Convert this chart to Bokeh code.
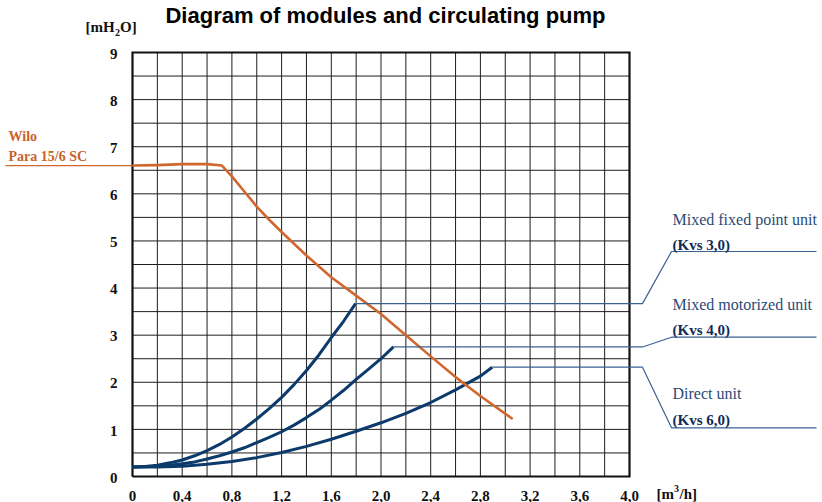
from bokeh.plotting import figure
from bokeh.models import Range1d
from bokeh.core.properties import value
from bokeh.embed import file_html
from bokeh.resources import INLINE

# ---------------- data ----------------
x_major = [0.0, 0.4, 0.8, 1.2, 1.6, 2.0, 2.4, 2.8, 3.2, 3.6, 4.0]
x_labels = ["0", "0,4", "0,8", "1,2", "1,6", "2,0", "2,4", "2,8", "3,2", "3,6", "4,0"]
x_grid = [0.0, 0.2, 0.4, 0.6, 0.8, 1.0, 1.2, 1.4, 1.6, 1.8, 2.0,
          2.2, 2.4, 2.6, 2.8, 3.0, 3.2, 3.4, 3.6, 3.8, 4.0]
y_major = [0, 1, 2, 3, 4, 5, 6, 7, 8, 9]
y_labels = ["0", "1", "2", "3", "4", "5", "6", "7", "8", "9"]
y_grid = [0, 0.5, 1, 1.5, 2, 2.5, 3, 3.5, 4, 4.5, 5, 5.5, 6, 6.5, 7, 7.5, 8, 8.5, 9]

# Wilo Para 15/6 SC pump curve
wilo_q = [0.0, 0.2, 0.4, 0.6, 0.72, 0.8, 0.9, 1.0, 1.1, 1.2, 1.4, 1.6, 1.8, 2.0, 2.2, 2.4, 2.6, 2.8, 3.06]
wilo_h = [6.60, 6.61, 6.63, 6.63, 6.60, 6.37, 6.05, 5.73, 5.45, 5.19, 4.69, 4.23, 3.84, 3.45, 3.00, 2.55, 2.11, 1.71, 1.22]

# Mixed fixed point unit (Kvs 3,0)
kvs3_q = [0.0, 0.1, 0.2, 0.3, 0.4, 0.5, 0.6, 0.7, 0.8, 0.9, 1.0,
          1.1, 1.2, 1.3, 1.4, 1.5, 1.6, 1.7, 1.795]
kvs3_h = [0.20, 0.21, 0.24, 0.29, 0.35, 0.44, 0.55, 0.68, 0.84, 1.02, 1.22,
          1.44, 1.68, 1.95, 2.25, 2.58, 2.95, 3.30, 3.67]

# Mixed motorized unit (Kvs 4,0)
kvs4_q = [0.0, 0.2, 0.3, 0.4, 0.5, 0.6, 0.7, 0.8, 0.9, 1.0, 1.1,
          1.2, 1.3, 1.4, 1.5, 1.6, 1.7, 1.8, 1.9, 2.0, 2.10]
kvs4_h = [0.20, 0.22, 0.24, 0.27, 0.31, 0.37, 0.44, 0.52, 0.61, 0.72, 0.83,
          0.95, 1.09, 1.25, 1.42, 1.62, 1.83, 2.06, 2.28, 2.50, 2.75]

# Direct unit (Kvs 6,0)
kvs6_q = [0.0, 0.2, 0.4, 0.6, 0.8, 1.0, 1.2, 1.4, 1.6, 1.8, 2.0, 2.2, 2.4, 2.6, 2.8, 2.895]
kvs6_h = [0.20, 0.20, 0.22, 0.26, 0.32, 0.40, 0.51, 0.64, 0.79, 0.96, 1.14, 1.34, 1.57, 1.84, 2.13, 2.32]

unit_names = ["Mixed fixed point unit", "Mixed motorized unit", "Direct unit"]
unit_kvs = ["(Kvs 3,0)", "(Kvs 4,0)", "(Kvs 6,0)"]

# ---------------- layout ----------------
W, H = 822, 502
PX_X = 124.25      # pixels per m3/h
PX_Y = 47.111      # pixels per mH2O
X_ORIGIN = 132     # px of q = 0
Y_ORIGIN = 476     # px of h = 0


def px2x(px):
    return (px - X_ORIGIN) / PX_X


def px2y(py):
    return (Y_ORIGIN - py) / PX_Y


p = figure(width=W, height=H,
           x_range=Range1d(px2x(0), px2x(W)), y_range=Range1d(px2y(H), px2y(0)),
           output_backend="svg", toolbar_location=None,
           x_axis_location=None, y_axis_location=None,
           min_border=0, outline_line_color=None,
           background_fill_color="white", border_fill_color="white")
p.grid.visible = False

SERIF = value("Liberation Serif")
SANS = value("Liberation Sans")
ORANGE = "#d0672f"
NAVY = "#0b3a6b"
LEADER = "#3a6290"
TXT = "#2c4a78"
TXT_B = "#102c57"
INK = "#111111"


def label(px, py, txt, size, color=INK, bold=True, font=SERIF, align="left"):
    p.text(x=[px2x(px)], y=[px2y(py)], text=[txt], text_font=font,
           text_font_style="bold" if bold else "normal", text_font_size=f"{size}px",
           text_align=align, text_baseline="middle", text_color=color)


# grid
p.segment(x0=x_grid, y0=[0] * len(x_grid), x1=x_grid, y1=[9] * len(x_grid),
          line_color="#1e1e1e", line_width=1)
p.segment(x0=[0] * len(y_grid), y0=y_grid, x1=[4.0] * len(y_grid), y1=y_grid,
          line_color="#1e1e1e", line_width=1)
# frame border
p.line([0, 4.0, 4.0, 0, 0], [0, 0, 9, 9, 0], line_color=INK, line_width=2.2,
       line_join="miter")

# tick labels
p.text(x=[px2x(117)] * len(y_major), y=[v - 1.2 / PX_Y for v in y_major], text=y_labels,
       text_font=SERIF, text_font_style="bold", text_font_size="15px",
       text_align="right", text_baseline="middle", text_color=INK)
p.text(x=x_major, y=[px2y(495)] * len(x_major), text=x_labels,
       text_font=SERIF, text_font_style="bold", text_font_size="15px",
       text_align="center", text_baseline="middle", text_color=INK)

# axis units
label(85, 26, "[mH", 15)
label(114.5, 31.6, "2", 10)
label(119.5, 26, "O]", 15)

label(656, 493, "[m", 15)
label(673.5, 488, "3", 10)
label(679, 493, "/h]", 15)

# title
label(385, 14.5, "Diagram of modules and circulating pump", 22, color="#000000",
      font=SANS, align="center")

# curves
p.line(kvs3_q, kvs3_h, line_color=NAVY, line_width=3, line_join="round")
p.line(kvs4_q, kvs4_h, line_color=NAVY, line_width=3, line_join="round")
p.line(kvs6_q, kvs6_h, line_color=NAVY, line_width=3, line_join="round")
p.line(wilo_q, wilo_h, line_color=ORANGE, line_width=2.6, line_join="round")

# Wilo label and leader
p.line([px2x(5), wilo_q[0]], [wilo_h[0], wilo_h[0]], line_color=ORANGE, line_width=1.2)
label(8, 136.2, "Wilo", 14, color="#c9622b")
label(8, 155.7, "Para 15/6 SC", 14, color="#c9622b")

# unit leaders and labels
ends = [(kvs3_q[-1], kvs3_h[-1]), (kvs4_q[-1], kvs4_h[-1]), (kvs6_q[-1], kvs6_h[-1])]
label_line_py = [251, 336.7, 427.3]
name_py = [218.6, 303.6, 392.6]
kvs_py = [244.2, 329.2, 419.2]
for (eq, eh), lpy, npy, kpy, name, kvs in zip(ends, label_line_py, name_py, kvs_py,
                                              unit_names, unit_kvs):
    ly = px2y(lpy)
    p.line([eq, px2x(642), px2x(671), px2x(816)], [eh, eh, ly, ly],
           line_color=LEADER, line_width=1.2)
    label(672, npy, name, 16, color=TXT, bold=False)
    label(672, kpy, kvs, 15, color=TXT_B)

open("out.html", "w").write(file_html(p, INLINE))
